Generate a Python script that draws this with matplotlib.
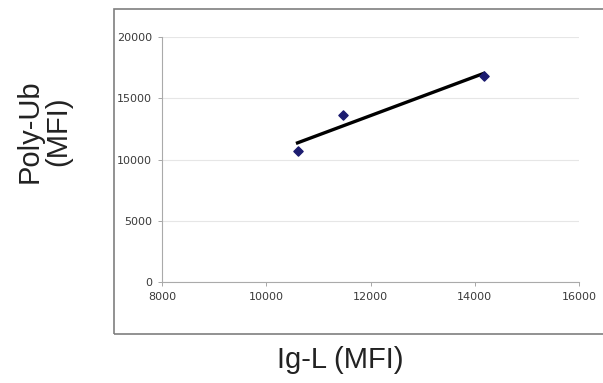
import matplotlib
matplotlib.use("Agg")
import matplotlib.pyplot as plt
import numpy as np
from matplotlib.patches import Rectangle

ig_l = [10600, 11480, 14170]
poly_ub = [10700, 13630, 16810]
x_ticks = [8000, 10000, 12000, 14000, 16000]
y_ticks = [0, 5000, 10000, 15000, 20000]

fig = plt.figure(figsize=(6.03, 3.83), dpi=100)
fig.patch.set_facecolor("white")

# outer frame
fig.patches.append(Rectangle((114/603, (383-334)/383), 1.0, (334-9)/383,
                             transform=fig.transFigure, fill=False,
                             edgecolor="#7f7f7f", linewidth=1.2, zorder=0))

ax = fig.add_axes([162/603, (383-282)/383, (579-162)/603, (282-37)/383])
ax.set_xlim(8000, 16000)
ax.set_ylim(0, 20000)
ax.set_xticks(x_ticks)
ax.set_yticks(y_ticks)
tickfont = dict(family=["Liberation Sans Narrow", "DejaVu Sans"], size=8)
ax.set_xticklabels([str(v) for v in x_ticks], **tickfont, color="#3a3a3a")
ax.set_yticklabels([str(v) for v in y_ticks], **tickfont, color="#3a3a3a")
ax.tick_params(axis="both", length=3, width=0.6, color="#999999", pad=4)
for s in ["top", "right"]:
    ax.spines[s].set_visible(False)
for s in ["left", "bottom"]:
    ax.spines[s].set_color("#aaaaaa")
    ax.spines[s].set_linewidth(0.8)
ax.yaxis.grid(True, color="#e6e6e6", linewidth=0.8)
ax.set_axisbelow(True)

coef = np.polyfit(ig_l, poly_ub, 1)
xs = np.array([min(ig_l), max(ig_l)])
ax.plot(xs, np.polyval(coef, xs), color="black", linewidth=2.4, zorder=3)
ax.scatter(ig_l, poly_ub, marker="D", s=22, color="#1c1c70", zorder=4)

fig.text(44/603, 1 - 131/383, "Poly-Ub\n(MFI)", rotation=90, ha="center", va="center",
         fontsize=21, family=["Liberation Sans", "DejaVu Sans"], color="#222222",
         linespacing=1.0)
fig.text(340/603, 1 - 360/383, "Ig-L (MFI)", ha="center", va="center",
         fontsize=21, family=["Liberation Sans", "DejaVu Sans"], color="#222222")

fig.savefig("out.png", dpi=100)
